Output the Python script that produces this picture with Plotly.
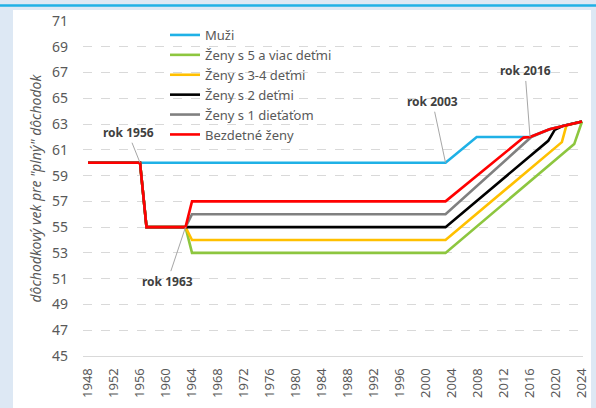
import plotly.graph_objects as go

# ---- data (year, retirement age) ----
muzi_x = [1948, 1956, 2003, 2007.8, 2016, 2019, 2021, 2024]
muzi_y = [60, 60, 60, 62, 62, 62.6, 62.85, 63.2]

zeny5_x = [1948, 1956, 1957, 1963, 1964, 2003, 2022.8, 2024]
zeny5_y = [60, 60, 55, 55, 53, 53, 61.45, 63.2]

zeny34_x = [1948, 1956, 1957, 1963, 1964, 2003, 2020.9, 2021.6, 2024]
zeny34_y = [60, 60, 55, 55, 54, 54, 61.6, 62.9, 63.2]

zeny2_x = [1948, 1956, 1957, 1963, 2003, 2018.8, 2019.8, 2021, 2024]
zeny2_y = [60, 60, 55, 55, 55, 61.7, 62.55, 62.85, 63.2]

zeny1_x = [1948, 1956, 1957, 1963, 1964, 2003, 2016.2, 2019, 2021, 2024]
zeny1_y = [60, 60, 55, 55, 56, 56, 62.0, 62.6, 62.85, 63.2]

bezdetne_x = [1948, 1956, 1957, 1963, 1964, 2003, 2015, 2016, 2019, 2021, 2024]
bezdetne_y = [60, 60, 55, 55, 57, 57, 61.95, 62.0, 62.6, 62.85, 63.2]

series = [
    ("Muži", muzi_x, muzi_y, "#1fb1e6"),
    ("Ženy s 5 a viac deťmi", zeny5_x, zeny5_y, "#8dc63f"),
    ("Ženy s 3-4 deťmi", zeny34_x, zeny34_y, "#ffc000"),
    ("Ženy s 2 deťmi", zeny2_x, zeny2_y, "#000000"),
    ("Ženy s 1 dieťaťom", zeny1_x, zeny1_y, "#808080"),
    ("Bezdetné ženy", bezdetne_x, bezdetne_y, "#ff0000"),
]

x_ticks = list(range(1948, 2025, 4))
y_ticks = list(range(45, 72, 2))

# annotations: (label, x, y, ax, ay)
notes = [
    ("rok 1956", 1956, 60, -12, -30),
    ("rok 1963", 1963, 55, -18, 54),
    ("rok 2003", 2003, 60, -13, -61),
    ("rok 2016", 2016, 62, -5, -66),
]

FONT = "Noto Sans"
GREY = "#595959"

fig = go.Figure()
for name, xs, ys, col in series:
    fig.add_trace(go.Scatter(x=xs, y=ys, mode="lines", name=name,
                             line=dict(color=col, width=2.6)))

L, R, T, B = 83, 13, 21, 52
W, H = 596, 408
pw, ph = W - L - R, H - T - B

def px(xp):
    return (xp - L) / pw

def py(yp):
    return (H - B - yp) / ph

shapes = [
    dict(type="rect", xref="paper", yref="paper", x0=px(13), x1=px(591),
         y0=py(430), y1=py(10), fillcolor="white", line=dict(width=0), layer="below"),
    dict(type="line", xref="paper", yref="paper", x0=px(-10), x1=px(610),
         y0=py(5.5), y1=py(5.5), line=dict(color="#1fb1e6", width=2.5)),
]

annotations = []
for label, x, y, ax, ay in notes:
    annotations.append(dict(x=x, y=y, xref="x", yref="y", text="<b>%s</b>" % label,
                            showarrow=True, arrowhead=0, arrowwidth=1, arrowcolor="#a6a6a6",
                            ax=ax, ay=ay, font=dict(family=FONT, size=12, color="#404040")))
annotations.append(dict(x=px(35), y=0.5, xref="paper", yref="paper",
                        text="<i>dôchodkový vek pre \"plný\" dôchodok</i>", textangle=-90,
                        showarrow=False, xanchor="center", yanchor="middle",
                        font=dict(family=FONT, size=14, color=GREY)))

fig.update_layout(
    width=W, height=H,
    margin=dict(l=L, r=R, t=T, b=B, autoexpand=False),
    paper_bgcolor="#dde8f4", plot_bgcolor="white",
    font=dict(family=FONT, color=GREY),
    shapes=shapes, annotations=annotations,
    showlegend=True,
    legend=dict(x=px(165), y=py(20), xanchor="left", yanchor="top",
                bgcolor="rgba(0,0,0,0)", font=dict(family=FONT, size=13, color=GREY),
                itemwidth=30, tracegroupgap=0),
    xaxis=dict(range=[1947.23, 2024.15], tickvals=x_ticks, ticktext=[str(v) for v in x_ticks],
               tickangle=-90, showgrid=False, zeroline=False, showline=True,
               linecolor="#d9d9d9", linewidth=1, tickfont=dict(size=13, color=GREY),
               ticks="", ticklabelstandoff=6, automargin=False),
    yaxis=dict(range=[45, 71], tickvals=y_ticks, showgrid=True, gridcolor="#d9d9d9",
               griddash="dash", gridwidth=1, zeroline=False, showline=False,
               tickfont=dict(size=14, color=GREY), ticks="", ticklabelstandoff=14,
               automargin=False),
)

fig.write_html("out.html", config={"displayModeBar": False},
               post_script="document.body.style.margin='0';document.body.style.overflow='hidden';")
